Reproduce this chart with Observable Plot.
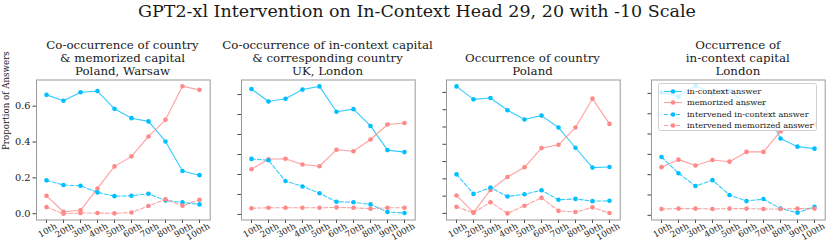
<!DOCTYPE html>
<html>
<head>
<meta charset="utf-8">
<script src="https://cdn.jsdelivr.net/npm/d3@7"></script>
<script src="https://cdn.jsdelivr.net/npm/@observablehq/plot@0.6"></script>
<style>
  body { margin: 0; background: #fff; }
  #chart { position: relative; width: 831px; height: 245px; overflow: hidden; background: #fff; font-family: "DejaVu Serif", serif; color: #1a1a1a; }
  .suptitle { position: absolute; left: 0; top: 1px; width: 834px; text-align: center; font-size: 17.5px; line-height: 20px; white-space: nowrap; }
  .ptitle { position: absolute; bottom: 166.5px; text-align: center; font-size: 11.8px; line-height: 13.1px; white-space: nowrap; }
  .panel { position: absolute; top: 0; overflow: visible; }
  .panel svg { max-width: none !important; }
  .legend { position: absolute; left: 658px; top: 83px; width: 157px; height: 46px; border: 1px solid #d0d0d0; border-radius: 2.5px; background: rgba(255,255,255,0.8); }
  .legend .row { position: absolute; left: 0; height: 11px; font-size: 8.2px; line-height: 11px; white-space: nowrap; }
  .legend svg { position: absolute; left: 4px; top: 0; }
  .legend span { position: absolute; left: 28px; top: 0; }
</style>
</head>
<body>
<div id="chart"></div>
<script>
// ---- data ----
const percentiles = ["10th", "20th", "30th", "40th", "50th", "60th", "70th", "80th", "90th", "100th"];
const seriesNames = ["in-context answer", "memorized answer", "intervened in-context answer", "intervened memorized answer"];
const mainTitle = "GPT2-xl Intervention on In-Context Head 29, 20 with -10 Scale";
const panelTitles = [
  "Co-occurrence of country\n& memorized capital\nPoland, Warsaw",
  "Co-occurrence of in-context capital\n& corresponding country\nUK, London",
  "Occurrence of country\nPoland",
  "Occurrence of\nin-context capital\nLondon"
];
const yLabel = "Proportion of Answers";

// Panel 1: co-occurrence of country & memorized capital (Poland, Warsaw)
const p1InContext      = [0.663, 0.630, 0.678, 0.684, 0.585, 0.533, 0.515, 0.403, 0.238, 0.215];
const p1Memorized      = [0.100, 0.011, 0.019, 0.141, 0.264, 0.320, 0.431, 0.524, 0.711, 0.691];
const p1IntInContext   = [0.186, 0.160, 0.156, 0.119, 0.098, 0.100, 0.111, 0.074, 0.063, 0.052];
const p1IntMemorized   = [0.037, 0.000, 0.004, 0.004, 0.002, 0.007, 0.043, 0.080, 0.045, 0.078];

// Panel 2: co-occurrence of in-context capital & corresponding country (UK, London)
const p2InContext      = [0.628, 0.565, 0.579, 0.625, 0.641, 0.514, 0.527, 0.443, 0.322, 0.312];
const p2Memorized      = [0.226, 0.276, 0.279, 0.250, 0.241, 0.324, 0.316, 0.375, 0.450, 0.458];
const p2IntInContext   = [0.278, 0.271, 0.167, 0.140, 0.106, 0.063, 0.061, 0.050, 0.012, 0.007];
const p2IntMemorized   = [0.031, 0.033, 0.033, 0.033, 0.033, 0.035, 0.033, 0.028, 0.033, 0.033];

// Panel 3: occurrence of country (Poland)
const p3InContext      = [0.735, 0.660, 0.668, 0.597, 0.543, 0.566, 0.497, 0.380, 0.265, 0.269];
const p3Memorized      = [0.104, 0.006, 0.136, 0.211, 0.267, 0.378, 0.397, 0.497, 0.664, 0.518];
const p3IntInContext   = [0.226, 0.113, 0.150, 0.098, 0.111, 0.134, 0.079, 0.084, 0.071, 0.073];
const p3IntMemorized   = [0.038, 0.004, 0.065, 0.000, 0.044, 0.090, 0.015, 0.008, 0.035, 0.002];

// Panel 4: occurrence of in-context capital (London)
const p4InContext      = [0.605, 0.584, 0.638, 0.600, 0.612, 0.545, 0.546, 0.378, 0.338, 0.328];
const p4Memorized      = [0.237, 0.274, 0.245, 0.272, 0.264, 0.312, 0.312, 0.413, 0.436, 0.449];
const p4IntInContext   = [0.287, 0.207, 0.144, 0.173, 0.100, 0.070, 0.080, 0.033, 0.013, 0.042];
const p4IntMemorized   = [0.031, 0.033, 0.033, 0.031, 0.033, 0.033, 0.031, 0.031, 0.033, 0.033];

const panelValues = [
  [p1InContext, p1Memorized, p1IntInContext, p1IntMemorized],
  [p2InContext, p2Memorized, p2IntInContext, p2IntMemorized],
  [p3InContext, p3Memorized, p3IntInContext, p3IntMemorized],
  [p4InContext, p4Memorized, p4IntInContext, p4IntMemorized]
];
const yTickValues = [
  [0, 0.2, 0.4, 0.6],
  [0, 0.1, 0.2, 0.3, 0.4, 0.5, 0.6],
  [0, 0.1, 0.2, 0.3, 0.4, 0.5, 0.6, 0.7],
  [0, 0.1, 0.2, 0.3, 0.4, 0.5, 0.6]
];

// ---- styles / layout ----
const BLUE = "#00bfff", RED = "#f88";
const seriesStyle = [
  {color: BLUE, dash: null},
  {color: RED, dash: null},
  {color: BLUE, dash: "4,2"},
  {color: RED, dash: "4,2"}
];
const yDomains = [[-0.035, 0.746], [-0.028, 0.673], [-0.038, 0.772], [-0.023, 0.666]];
const frameLefts = [35.7, 240.7, 445.7, 651];
const frameW = 173.7;
const mL = 36, mR = 22, mT = 79.5, mB = 25.5;

const chart = document.getElementById("chart");

const st = document.createElement("div");
st.className = "suptitle";
st.textContent = mainTitle;
chart.appendChild(st);

panelValues.forEach((vals, pi) => {
  const marks = [];
  marks.push(Plot.axisY({
    ticks: yTickValues[pi], tickSize: 3.5, tickPadding: 2.5, label: null,
    tickFormat: pi === 0 ? (d => d.toFixed(1)) : (() => ""),
    fontSize: 9.8, stroke: "#444"
  }));
  marks.push(Plot.axisX({tickSize: 3.5, tickFormat: () => "", label: null, stroke: "#444"}));
  marks.push(Plot.text(percentiles, {
    x: d => d, text: d => d, frameAnchor: "bottom", rotate: -30,
    textAnchor: "end", lineAnchor: "top", dx: 8, dy: 2.5, fontSize: 8.6, fill: "#1a1a1a"
  }));
  if (pi === 0) {
    marks.push(Plot.text([yLabel], {text: d => d, frameAnchor: "left", rotate: -90, dx: -30, fontSize: 8.7, fill: "#1a1a1a"}));
  }
  vals.forEach((arr, si) => {
    const rows = percentiles.map((p, k) => ({x: p, y: arr[k], series: seriesNames[si]}));
    const s = seriesStyle[si];
    marks.push(Plot.line(rows, {x: "x", y: "y", stroke: s.color, strokeWidth: 1.1, strokeOpacity: 0.8, strokeDasharray: s.dash}));
    marks.push(Plot.dot(rows, {x: "x", y: "y", r: 2.3, fill: s.color, stroke: "none"}));
  });
  marks.push(Plot.frame({stroke: "#9a9a9a", strokeWidth: 1}));

  const W = mL + frameW + mR;
  const svg = Plot.plot({
    width: W, height: 245,
    marginLeft: mL, marginRight: mR, marginTop: mT, marginBottom: mB,
    style: {background: "transparent", overflow: "visible", fontFamily: "DejaVu Serif", color: "#1a1a1a", maxWidth: "none"},
    x: {type: "point", domain: percentiles, padding: 0.43},
    y: {domain: yDomains[pi]},
    marks
  });
  const wrap = document.createElement("div");
  wrap.className = "panel";
  wrap.style.left = (frameLefts[pi] - mL) + "px";
  wrap.style.width = W + "px";
  wrap.style.height = "245px";
  wrap.appendChild(svg);
  chart.appendChild(wrap);

  const t = document.createElement("div");
  t.className = "ptitle";
  t.style.left = (frameLefts[pi] + frameW / 2 - 110) + "px";
  t.style.width = "220px";
  t.innerHTML = panelTitles[pi].split("\n").map(l => l.replace(/&/g, "&amp;")).join("<br>");
  chart.appendChild(t);
});

// legend (inside last panel)
const leg = document.createElement("div");
leg.className = "legend";
seriesNames.forEach((name, si) => {
  const s = seriesStyle[si];
  const row = document.createElement("div");
  row.className = "row";
  row.style.top = (1.5 + si * 11.5) + "px";
  row.innerHTML = `<svg width="20" height="11"><line x1="1" x2="19" y1="5.5" y2="5.5" stroke="${s.color}" stroke-width="1.1" stroke-opacity="0.8" ${s.dash ? `stroke-dasharray="${s.dash}"` : ""}/><circle cx="10" cy="5.5" r="2.3" fill="${s.color}"/></svg><span></span>`;
  row.querySelector("span").textContent = name;
  leg.appendChild(row);
});
chart.appendChild(leg);
</script>
</body>
</html>
